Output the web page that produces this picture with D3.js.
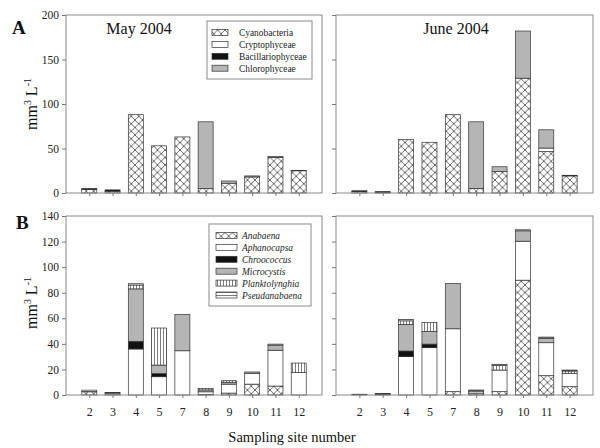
<!DOCTYPE html>
<html><head><meta charset="utf-8">
<script src="https://cdn.jsdelivr.net/npm/d3@7"></script>
<style>body{margin:0;background:#fff}svg{display:block}text{font-family:"Liberation Serif","Times New Roman",serif}</style>
</head><body>
<script>
const sites = ["2","3","4","5","7","8","9","10","11","12"];
const classNames = ["Cyanobacteria","Cryptophyceae","Bacillariophyceae","Chlorophyceae"];
const genusNames = ["Anabaena","Aphanocapsa","Chroococcus","Microcystis","Planktolynghia","Pseudanabaena"];
const yTicksA = [0,50,100,150,200];
const yTicksB = [0,20,40,60,80,100,120,140];

// Panel A, May 2004
const cyanoMay  = [4, 2, 88, 53, 63, 5, 11, 18, 40, 25];
const cryptoMay = [0, 0, 0, 0, 0, 0, 0, 0, 0, 0];
const bacilMay  = [1, 1.5, 0, 0, 0, 0, 0, 0, 0, 0.3];
const chloroMay = [0, 0, 0, 0, 0, 75, 2.5, 1.2, 1, 0];
// Panel A, June 2004
const cyanoJun  = [1.5, 1, 60, 57, 88, 5, 24, 129, 46.5, 19.2];
const cryptoJun = [0, 0, 0, 0, 0, 0, 0, 0, 4, 0];
const bacilJun  = [1, 0.5, 0, 0, 0, 0, 0, 0, 0, 0];
const chloroJun = [0, 0, 0, 0, 0, 75, 5.5, 53, 20.5, 0.7];

// Panel B, May 2004
const anabMay   = [2.5, 0, 0, 0, 0, 0.5, 1.5, 8.5, 7, 0];
const aphanMay  = [0, 0, 36, 14.3, 34.6, 2, 7, 8.5, 28, 17.5];
const chrooMay  = [0, 0, 6, 2.4, 0, 0, 0, 0, 0, 0];
const microMay  = [0, 1.5, 41, 6.7, 28.4, 1.5, 1.5, 1, 4, 0];
const plankMay  = [0, 0, 3, 29, 0, 1, 1.2, 0, 0, 7.5];
const pseudMay  = [1.3, 0.5, 1, 0, 0, 0, 0, 0, 0.8, 0];
// Panel B, June 2004
const anabJun   = [0, 0, 0, 0, 2.6, 1, 2.6, 89.8, 15.1, 6.5];
const aphanJun  = [0, 0, 30, 37, 49.2, 1.5, 16.9, 30.5, 25.8, 10.5];
const chrooJun  = [0, 0, 4.4, 2.8, 0, 0, 0, 0, 0, 0];
const microJun  = [0.3, 0.7, 20.8, 9.9, 35.4, 1, 0, 8.1, 3.4, 0];
const plankJun  = [0, 0, 2.8, 7.1, 0, 0.4, 3.5, 0, 0, 1.75];
const pseudJun  = [0.3, 0.4, 1, 0, 0, 0, 1, 0.8, 1, 0.75];

const W = 600, H = 448;
const svg = d3.select("body").append("svg").attr("width", W).attr("height", H);
const defs = svg.append("defs");

// patterns
const pc = defs.append("pattern").attr("id","cross").attr("patternUnits","userSpaceOnUse").attr("width",7.5).attr("height",7.5);
pc.append("rect").attr("width",7.5).attr("height",7.5).attr("fill","#fff");
pc.append("path").attr("d","M0,0L7.5,7.5M7.5,0L0,7.5").attr("stroke","#444").attr("stroke-width",0.8);
const pv = defs.append("pattern").attr("id","vert").attr("patternUnits","userSpaceOnUse").attr("width",3).attr("height",3);
pv.append("rect").attr("width",3).attr("height",3).attr("fill","#fff");
pv.append("path").attr("d","M1.5,0V3").attr("stroke","#444").attr("stroke-width",0.7);
const ph = defs.append("pattern").attr("id","horz").attr("patternUnits","userSpaceOnUse").attr("width",3).attr("height",3);
ph.append("rect").attr("width",3).attr("height",3).attr("fill","#fff");
ph.append("path").attr("d","M0,1.5H3").attr("stroke","#444").attr("stroke-width",0.7);

const classFills = ["url(#cross)","#ffffff","#111111","#b5b5b5"];
const genusFills = ["url(#cross)","#ffffff","#111111","#b5b5b5","url(#vert)","url(#horz)"];

function panel(x0, x1, y0, y1, ticks, ymax, series, fills, showLabels, showX) {
  const x = d3.scalePoint().domain(sites).range([x0, x1]).padding(1);
  const y = d3.scaleLinear().domain([0, ymax]).range([y1, y0]);
  const g = svg.append("g");
  const rows = sites.map((s, i) => {
    const r = {site: s};
    series.forEach((arr, k) => r["k" + k] = arr[i]);
    return r;
  });
  const keys = series.map((_, k) => "k" + k);
  const stacked = d3.stack().keys(keys)(rows);
  const bw = 15;
  stacked.forEach((layer, k) => {
    g.selectAll(null).data(layer.filter(d => d[1] - d[0] > 0)).enter().append("rect")
      .attr("x", d => x(d.data.site) - bw / 2)
      .attr("width", bw)
      .attr("y", d => y(d[1]))
      .attr("height", d => y(d[0]) - y(d[1]))
      .attr("fill", fills[k])
      .attr("stroke", "#333").attr("stroke-width", 0.7);
  });
  // frame
  g.append("rect").attr("x", x0).attr("y", y0).attr("width", x1 - x0).attr("height", y1 - y0)
    .attr("fill", "none").attr("stroke", "#8a8a8a").attr("stroke-width", 1);
  // y axis
  const ya = d3.axisLeft(y).tickValues(ticks).tickSize(4).tickPadding(3)
    .tickFormat(showLabels ? d3.format("d") : () => "");
  const yg = g.append("g").attr("transform", `translate(${x0},0)`).call(ya);
  yg.select(".domain").remove();
  yg.selectAll("line").attr("stroke", "#777");
  yg.selectAll("text").attr("font-size", 11.5).attr("fill", "#222");
  // x axis
  const xa = d3.axisBottom(x).tickSize(3).tickPadding(9).tickFormat(showX ? d => d : () => "");
  const xg = g.append("g").attr("transform", `translate(0,${y1})`).call(xa);
  xg.select(".domain").remove();
  xg.selectAll("line").attr("stroke", "#777");
  xg.selectAll("text").attr("font-size", 12).attr("fill", "#222");
  return {x, y};
}

function legend(lx, ly, lw, lh, names, fills, italic, sx, sw, tx) {
  const g = svg.append("g");
  g.append("rect").attr("x", lx).attr("y", ly).attr("width", lw).attr("height", lh)
    .attr("fill", "#fff").attr("stroke", "#8a8a8a").attr("stroke-width", 1);
  names.forEach((n, i) => {
    const cy = ly + 11.5 + i * 11.9;
    g.append("rect").attr("x", sx).attr("y", cy - 3).attr("width", sw).attr("height", 6)
      .attr("fill", fills[i]).attr("stroke", "#333").attr("stroke-width", 0.7);
    g.append("text").attr("x", tx).attr("y", cy + 3.5).text(n)
      .attr("font-size", 9.4).attr("fill", "#222").attr("font-style", italic ? "italic" : "normal");
  });
}

// Panel A
panel(66, 322, 15, 193, yTicksA, 200, [cyanoMay, cryptoMay, bacilMay, chloroMay], classFills, true, false);
panel(336, 593, 15, 193, yTicksA, 200, [cyanoJun, cryptoJun, bacilJun, chloroJun], classFills, false, false);
// Panel B
panel(66, 322, 216, 395, yTicksB, 140, [anabMay, aphanMay, chrooMay, microMay, plankMay, pseudMay], genusFills, true, true);
panel(336, 593, 216, 395, yTicksB, 140, [anabJun, aphanJun, chrooJun, microJun, plankJun, pseudJun], genusFills, false, true);

legend(207, 21, 105, 58, classNames, classFills, false, 212, 16, 239);
legend(209, 224, 102, 82, genusNames, genusFills, true, 216, 21, 242);

// titles
svg.append("text").attr("x", 139).attr("y", 34).attr("text-anchor", "middle").attr("font-size", 16).attr("fill", "#111").text("May 2004");
svg.append("text").attr("x", 456).attr("y", 34).attr("text-anchor", "middle").attr("font-size", 16).attr("fill", "#111").text("June 2004");
svg.append("text").attr("x", 12).attr("y", 34).attr("font-size", 19).attr("font-weight", "bold").attr("fill", "#111").text("A");
svg.append("text").attr("x", 16).attr("y", 229).attr("font-size", 19).attr("font-weight", "bold").attr("fill", "#111").text("B");

function ylab(cx, cy) {
  const t = svg.append("text").attr("transform", `translate(${cx},${cy}) rotate(-90)`)
    .attr("text-anchor", "middle").attr("font-size", 16).attr("fill", "#111");
  t.append("tspan").text("mm");
  t.append("tspan").attr("dy", -6).attr("font-size", 10).text("3");
  t.append("tspan").attr("dy", 6).text(" L");
  t.append("tspan").attr("dy", -6).attr("font-size", 10).text("-1");
}
ylab(37, 104);
ylab(37, 303);

svg.append("text").attr("x", 292).attr("y", 442).attr("text-anchor", "middle").attr("font-size", 14.5).attr("fill", "#111").text("Sampling site number");
</script>
</body></html>
